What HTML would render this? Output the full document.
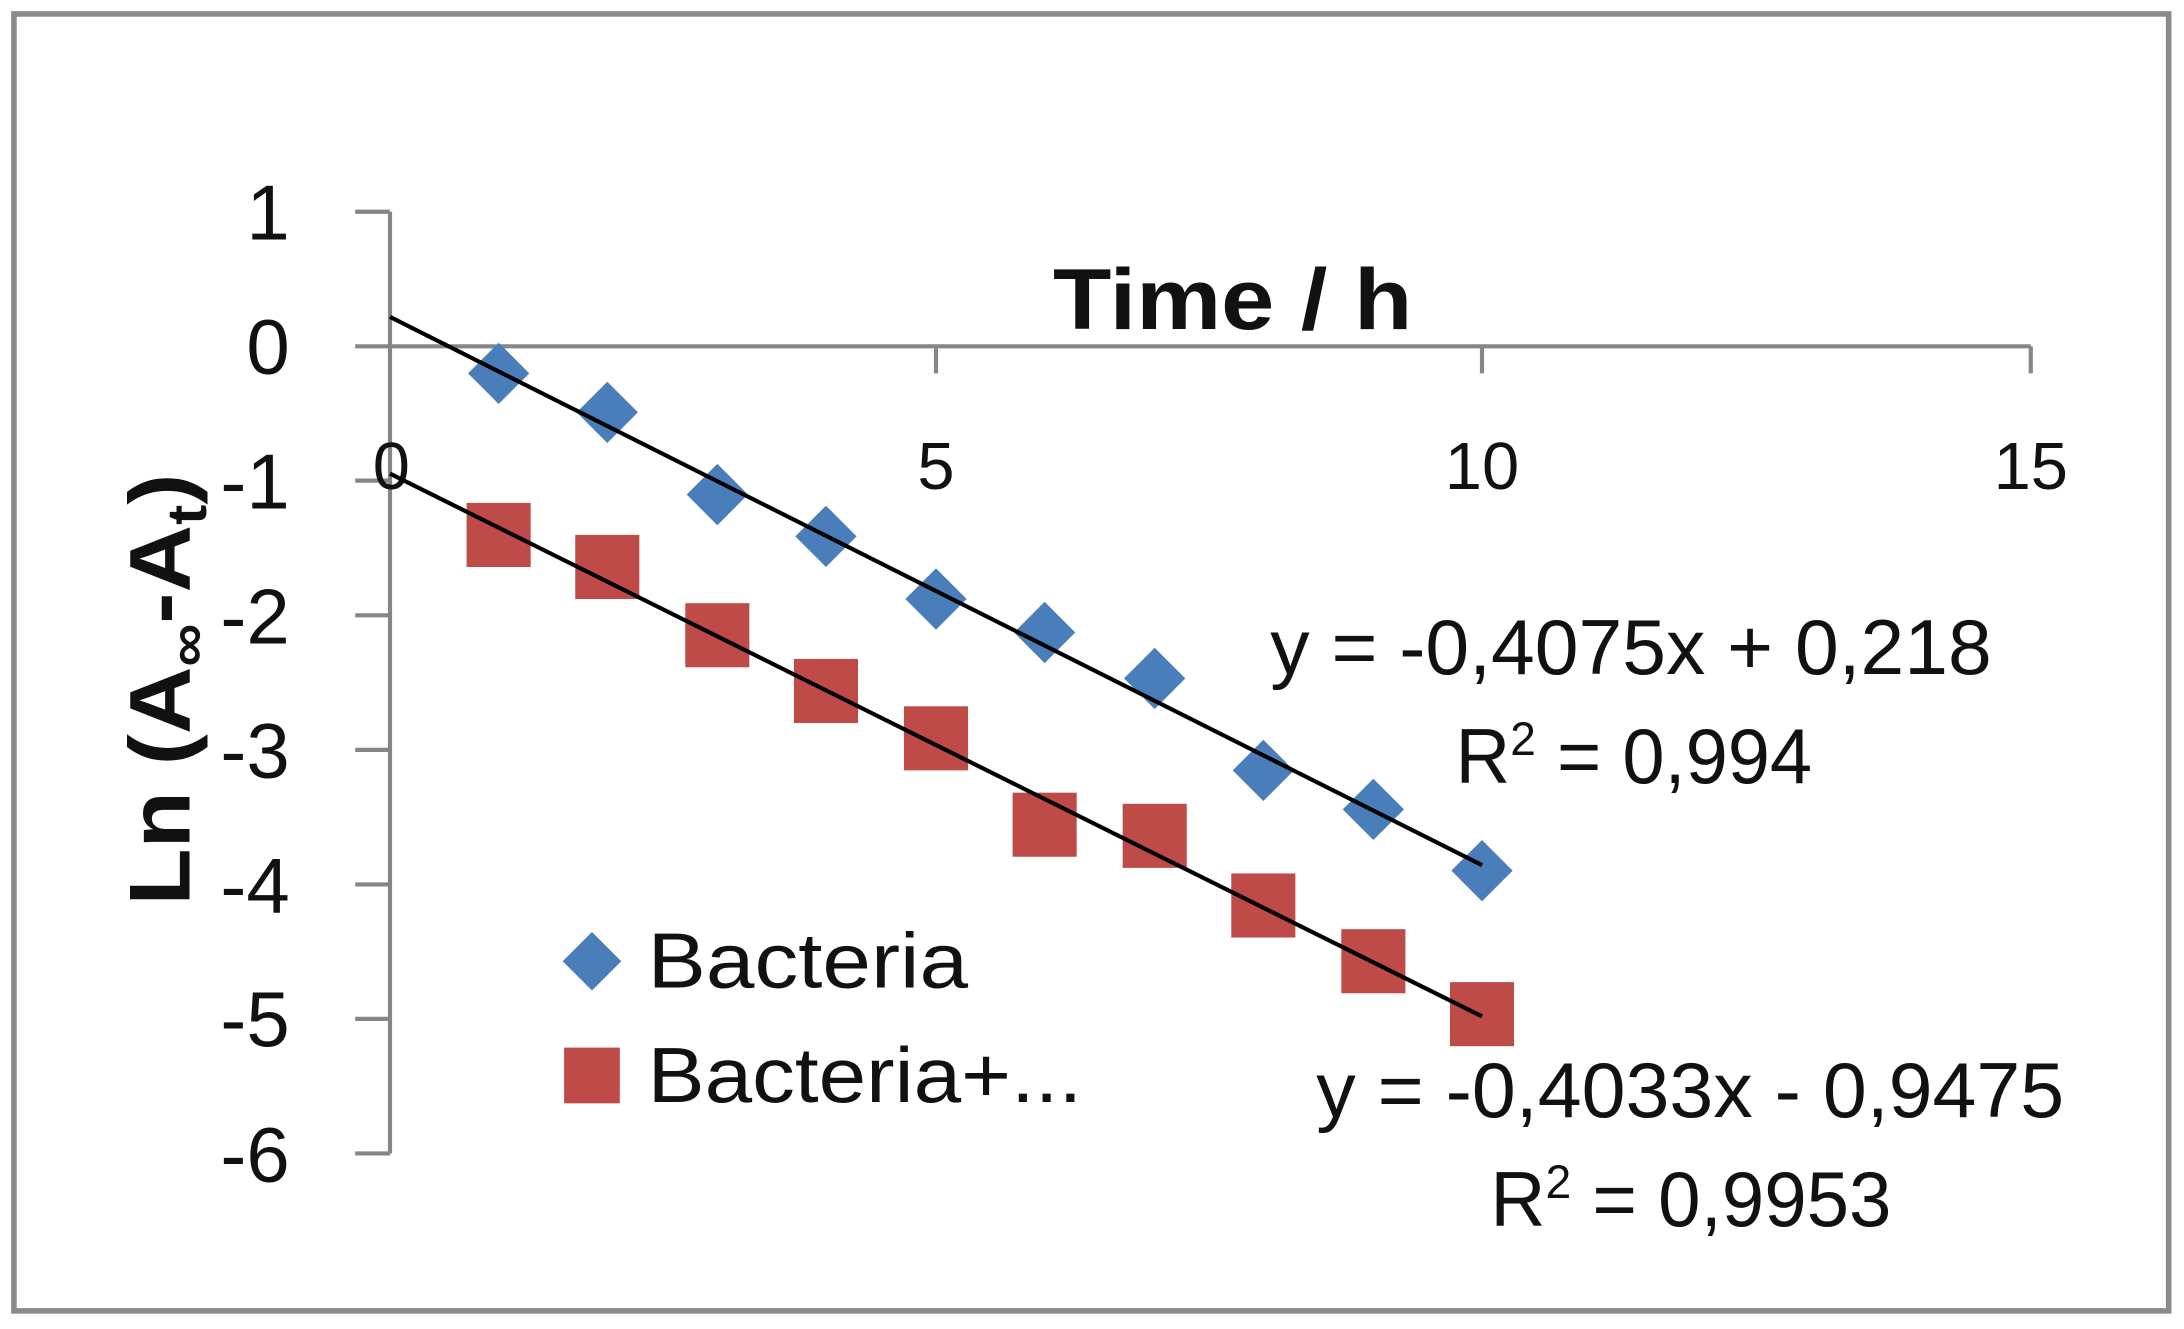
<!DOCTYPE html>
<html><head><meta charset="utf-8"><style>html,body{margin:0;padding:0;background:#fff}svg{display:block}</style></head>
<body>
<svg width="2184" height="1329" viewBox="0 0 1568 954" preserveAspectRatio="none" xmlns="http://www.w3.org/2000/svg" font-family="'Liberation Sans', sans-serif">
<rect x="0" y="0" width="1568" height="954" fill="#fff"/>
<rect x="10" y="10" width="1547" height="931" fill="none" stroke="#8a8a8a" stroke-width="4"/>
<g stroke="#868686" stroke-width="3" fill="none">
<line x1="280" y1="152" x2="280" y2="828"/>
<line x1="255" y1="152" x2="280" y2="152"/>
<line x1="255" y1="248.6" x2="280" y2="248.6"/>
<line x1="255" y1="345" x2="280" y2="345"/>
<line x1="255" y1="441.7" x2="280" y2="441.7"/>
<line x1="255" y1="538.3" x2="280" y2="538.3"/>
<line x1="255" y1="634.9" x2="280" y2="634.9"/>
<line x1="255" y1="731.4" x2="280" y2="731.4"/>
<line x1="255" y1="828" x2="280" y2="828"/>
<line x1="280" y1="248.6" x2="1458" y2="248.6"/>
<line x1="672" y1="248.6" x2="672" y2="268"/>
<line x1="1064" y1="248.6" x2="1064" y2="268"/>
<line x1="1458" y1="248.6" x2="1458" y2="268"/>
</g>
<g font-size="56" fill="#111" text-anchor="end">
<text x="208" y="172">1</text>
<text x="208" y="268">0</text>
<text x="208" y="365">-1</text>
<text x="208" y="462">-2</text>
<text x="208" y="558">-3</text>
<text x="208" y="655">-4</text>
<text x="208" y="751">-5</text>
<text x="208" y="848">-6</text>
</g>
<g font-size="48" fill="#111" text-anchor="middle">
<text x="281" y="351">0</text>
<text x="672" y="351">5</text>
<text x="1064" y="351">10</text>
<text x="1458" y="351">15</text>
</g>
<text x="885" y="236" font-size="62" font-weight="bold" text-anchor="middle" fill="#111" textLength="258" lengthAdjust="spacingAndGlyphs">Time / h</text>
<text transform="translate(136,495) rotate(-90)" font-size="62" font-weight="bold" text-anchor="middle" fill="#111" textLength="310" lengthAdjust="spacingAndGlyphs">Ln (A<tspan font-size="40" dy="12">∞</tspan><tspan dy="-12">-A</tspan><tspan font-size="40" dy="12">t</tspan><tspan dy="-12">)</tspan></text>
<g fill="#4a7ebb">
<path d="M358 246 l22 22 l-22 22 l-22 -22z"/>
<path d="M436 274 l22 22 l-22 22 l-22 -22z"/>
<path d="M515 333 l22 22 l-22 22 l-22 -22z"/>
<path d="M593 363 l22 22 l-22 22 l-22 -22z"/>
<path d="M672 408 l22 22 l-22 22 l-22 -22z"/>
<path d="M750 432 l22 22 l-22 22 l-22 -22z"/>
<path d="M829 465 l22 22 l-22 22 l-22 -22z"/>
<path d="M907 531 l22 22 l-22 22 l-22 -22z"/>
<path d="M986 559 l22 22 l-22 22 l-22 -22z"/>
<path d="M1064 603 l22 22 l-22 22 l-22 -22z"/>
<path d="M425 669 l21 21 l-21 21 l-21 -21z"/>
</g>
<g fill="#be4b48">
<rect x="335" y="361" width="46" height="46"/>
<rect x="413" y="384" width="46" height="46"/>
<rect x="492" y="433" width="46" height="46"/>
<rect x="570" y="473" width="46" height="46"/>
<rect x="649" y="507" width="46" height="46"/>
<rect x="727" y="569" width="46" height="46"/>
<rect x="806" y="577" width="46" height="46"/>
<rect x="884" y="627" width="46" height="46"/>
<rect x="963" y="667" width="46" height="46"/>
<rect x="1041" y="705" width="46" height="46"/>
<rect x="405" y="752" width="40" height="40"/>
</g>
<g stroke="#000" stroke-width="3">
<line x1="280" y1="227.5" x2="1064" y2="621"/>
<line x1="280" y1="340" x2="1064" y2="729.6"/>
</g>
<g font-size="56" fill="#111">
<text x="465" y="709" textLength="230" lengthAdjust="spacingAndGlyphs">Bacteria</text>
<text x="465" y="791" textLength="312" lengthAdjust="spacingAndGlyphs">Bacteria+...</text>
<text x="912" y="484" textLength="518" lengthAdjust="spacingAndGlyphs">y = -0,4075x + 0,218</text>
<text x="1045" y="562" textLength="256" lengthAdjust="spacingAndGlyphs">R<tspan font-size="34" dy="-20">2</tspan><tspan dy="20"> = 0,994</tspan></text>
<text x="945" y="802" textLength="537" lengthAdjust="spacingAndGlyphs">y = -0,4033x - 0,9475</text>
<text x="1070" y="880" textLength="288" lengthAdjust="spacingAndGlyphs">R<tspan font-size="34" dy="-20">2</tspan><tspan dy="20"> = 0,9953</tspan></text>
</g>
</svg>
</body></html>
